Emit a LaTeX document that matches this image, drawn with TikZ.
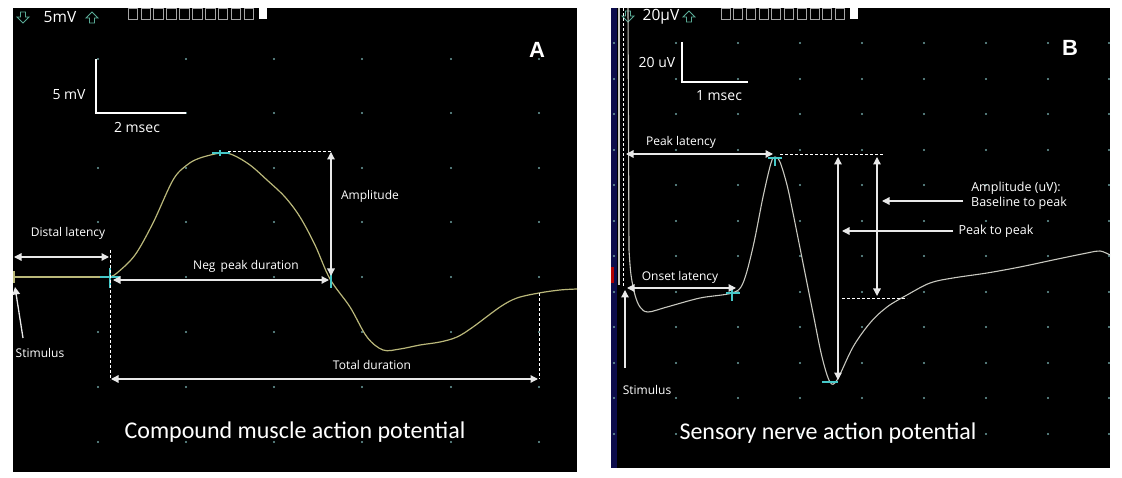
\documentclass[tikz,border=0pt]{standalone}
\usepackage{fontspec}
\setmainfont{Open Sans}
\newfontfamily\capfont{Carlito}
\newfontfamily\panelfont{Liberation Sans}
\usetikzlibrary{arrows.meta, positioning}
\definecolor{tracea}{RGB}{186,184,122}
\definecolor{traceb}{RGB}{200,200,192}
\definecolor{cursor}{RGB}{70,200,200}
\definecolor{gridtick}{RGB}{110,160,160}
\definecolor{iconteal}{RGB}{90,170,150}
\definecolor{sidebar}{RGB}{12,12,75}
\definecolor{labelgray}{RGB}{232,232,232}

\begin{document}
\begin{tikzpicture}[x=1pt, y=-1pt,
  lbl/.style={text=white, font=\fontsize{12}{14}\selectfont, inner sep=0pt},
  scalelbl/.style={text=white, font=\fontsize{14}{16}\selectfont, inner sep=0pt},
  headlbl/.style={text=white, font=\fontsize{15.5}{17}\selectfont, inner sep=0pt},
  caption/.style={text=white, font=\capfont\fontsize{24}{26}\selectfont, inner sep=0pt},
  panelletter/.style={text=white, font=\panelfont\bfseries\fontsize{22}{24}\selectfont, inner sep=0pt},
  dimarrow/.style={labelgray, line width=1.3pt, {Triangle[length=7.5pt,width=7.5pt]}-{Triangle[length=7.5pt,width=7.5pt]}},
  pointer/.style={labelgray, line width=1.3pt, -{Triangle[length=7.5pt,width=7.5pt]}},
  guide/.style={white, line width=0.9pt, dash pattern=on 3pt off 2pt},
  scalebar/.style={white, line width=1.4pt},
  cursormark/.style={cursor, line width=1.5pt},
  icon/.style={iconteal, line width=0.9pt},
  glyphbox/.style={gray!70, line width=0.8pt}]
  \useasboundingbox (0,0) rectangle (1122,478);

  % Panel A screen
  \fill[black] (13,8) rectangle (577,472);
  \foreach \gx in {98,186,274,362,451,539}
    \foreach \gy in {59,113,168,222,277,332,387,442}
      \fill[gridtick] (\gx,\gy) circle (1.1);

  % Panel A header
  \draw[icon, shift={(23,17)}] (-2.5,-5) -- (2.5,-5) -- (2.5,0) -- (6,0) -- (0,6) -- (-6,0) -- (-2.5,0) -- cycle;
  \node[headlbl] (sensA) at (60,17) {5mV};
  \draw[icon, shift={(92,18)}] (-2.5,5) -- (2.5,5) -- (2.5,0) -- (6,0) -- (0,-6) -- (-6,0) -- (-2.5,0) -- cycle;
  \foreach \i in {0,...,9}
    \draw[glyphbox] (128+12.9*\i,8) rectangle (137.5+12.9*\i,19);
  \fill[white] (259,8) rectangle (267,19);

  % Panel A scale bar
  \coordinate (barA) at (96,113);
  \draw[scalebar] (96,59) -- (barA) -- (186,113);
  \node[scalelbl] (mvA) at (69,95) {5 mV};
  \node[scalelbl] (msA) at (137,128) {2 msec};
  \node[panelletter] (letA) at (537,50) {A};

  % CMAP trace
  \draw[tracea, line width=1.2pt] (14,271) -- (14,283);
  \draw[tracea, line width=1.2pt] (13,277) -- (110,277);
  \draw[tracea, line width=1.2pt] plot[smooth, tension=0.55] coordinates {
    (110,277) (117,273) (135,255) (153,223) (173,180) (187,165) (200,158)
    (221,153) (233,155) (250,165) (267,180) (285,197) (300,217) (315,245)
    (330,279) (350,307) (367,337) (383,350) (400,349) (420,345) (440,342)
    (457,337) (473,327) (500,307) (517,298) (539,293) (560,290) (577,289)};

  % Panel A cursors
  \coordinate (onA) at (110,277);
  \coordinate (pkA) at (221,153);
  \coordinate (xA) at (331,277);
  \coordinate (endA) at (539,293);
  \draw[cursormark] (100,277) -- (120,277) (110,268) -- (110,288);
  \draw[cursormark] (212,153) -- (230,153) (220,150) -- (220,156);
  \draw[cursormark] (331,268) -- (331,288);

  % Panel A measurements
  \coordinate (dlL) at (14,257);
  \coordinate (dlR) at (109,257);
  \draw[dimarrow] (dlL) -- (dlR);
  \node[lbl] (distlat) at (68,233) {Distal latency};
  \draw[guide] (110,250) -- (110,380);
  \coordinate (npL) at (113,280);
  \coordinate (npR) at (329,280);
  \draw[dimarrow] (npL) -- (npR);
  \node[lbl] (negpk) at (246,266) {Neg\, peak duration};
  \draw[guide] (228,151) -- (331,151);
  \coordinate (ampT) at (331,152);
  \coordinate (ampB) at (331,276);
  \draw[dimarrow] (ampT) -- (ampB);
  \node[lbl] (ampA) at (370,196) {Amplitude};
  \draw[guide] (endA) -- (539,379);
  \coordinate (tdL) at (111,379);
  \coordinate (tdR) at (538,379);
  \draw[dimarrow] (tdL) -- (tdR);
  \node[lbl] (totdur) at (372,365) {Total duration};
  \node[lbl] (stimA) at (40,353) {Stimulus};
  \coordinate (stimtailA) at (23,338);
  \coordinate (stimtipA) at (15,287);
  \draw[pointer] (stimtailA) -- (stimtipA);
  \node[caption] (capA) at (295,432) {Compound muscle action potential};

  % Panel B screen
  \fill[black] (611,8) rectangle (1110,468);
  \fill[sidebar] (611,8) rectangle (617,468);
  \fill[red!70!black] (611,267) rectangle (614,283);
  \foreach \gx in {614,676,738,800,862,924,986,1048,1109}
    \foreach \gy in {43,79,114,150,185,221,256,292,327,363,398,434}
      \fill[gridtick] (\gx,\gy) circle (1.1);

  % Panel B header
  \draw[icon, shift={(628,16)}] (-2.5,-5) -- (2.5,-5) -- (2.5,0) -- (6,0) -- (0,6) -- (-6,0) -- (-2.5,0) -- cycle;
  \node[headlbl] (sensB) at (661,17) {20µV};
  \draw[icon, shift={(689,17)}] (-2.5,5) -- (2.5,5) -- (2.5,0) -- (6,0) -- (0,-6) -- (-6,0) -- (-2.5,0) -- cycle;
  \foreach \i in {0,...,9}
    \draw[glyphbox] (721+12.7*\i,8) rectangle (730+12.7*\i,19);
  \fill[white] (850,8) rectangle (858,19);

  % Panel B scale bar
  \coordinate (barB) at (682,82);
  \draw[scalebar] (682,42) -- (barB) -- (748,82);
  \node[scalelbl] (uvB) at (657,62) {20 uV};
  \node[scalelbl] (msB) at (719,96) {1 msec};
  \node[panelletter] (letB) at (1070,48) {B};

  % SNAP trace
  \draw[traceb, line width=1.1pt] (619,8) -- (619,285);
  \draw[guide] (623,8) -- (623,287);
  \draw[traceb, line width=1.1pt] (628,8) -- (629,250);
  \draw[traceb, line width=1.1pt] plot[smooth, tension=0.55] coordinates {
    (629,250) (631,275) (635,295) (640,307) (648,312) (667,307) (700,298)
    (732,293) (743,283) (753,247) (763,197) (771,163) (775,157) (780,162)
    (787,185) (793,213) (803,263) (813,313) (822,357) (830,382) (837,380)
    (853,347) (870,323) (887,307) (907,295) (930,283) (953,278) (987,273)
    (1020,267) (1053,260) (1087,253) (1100,251) (1110,255)};

  % Panel B cursors
  \coordinate (onB) at (732,293);
  \coordinate (pkB) at (775,157);
  \coordinate (trB) at (830,382);
  \draw[cursormark] (726,293) -- (740,293) (732,286) -- (732,301);
  \draw[cursormark] (768,158) -- (782,158) (775,157) -- (775,166);
  \draw[cursormark] (822,382) -- (838,382);

  % Panel B measurements
  \coordinate (plL) at (626,154);
  \coordinate (plR) at (773,154);
  \draw[dimarrow] (plL) -- (plR);
  \node[lbl] (pklat) at (681,142) {Peak latency};
  \draw[guide] (780,154) -- (883,154);
  \coordinate (olL) at (627,288);
  \coordinate (olR) at (736,288);
  \draw[dimarrow] (olL) -- (olR);
  \node[lbl] (onlat) at (680,277) {Onset latency};
  \node[lbl] (stimB) at (647,390) {Stimulus};
  \coordinate (stimtailB) at (625,368);
  \coordinate (stimtipB) at (625,290);
  \draw[pointer] (stimtailB) -- (stimtipB);
  \coordinate (ppT) at (838,157);
  \coordinate (ppB) at (838,380);
  \draw[dimarrow] (ppT) -- (ppB);
  \coordinate (bpT) at (877,157);
  \coordinate (bpB) at (877,296);
  \draw[dimarrow] (bpT) -- (bpB);
  \draw[guide] (842,298) -- (907,298);
  \node[lbl, align=center, font=\fontsize{12.5}{15.5}\selectfont] (ampB) at (1016,196) {Amplitude (uV):\\\hspace*{6pt}Baseline to peak};
  \coordinate (ampptr) at (882,201);
  \draw[pointer] (963,201) -- (ampptr);
  \node[lbl, font=\fontsize{12.5}{15}\selectfont] (p2p) at (996,231) {Peak to peak};
  \coordinate (p2pptr) at (842,231);
  \draw[pointer] (953,231) -- (p2pptr);
  \node[caption] (capB) at (828,433) {Sensory nerve action potential};
\end{tikzpicture}
\end{document}
